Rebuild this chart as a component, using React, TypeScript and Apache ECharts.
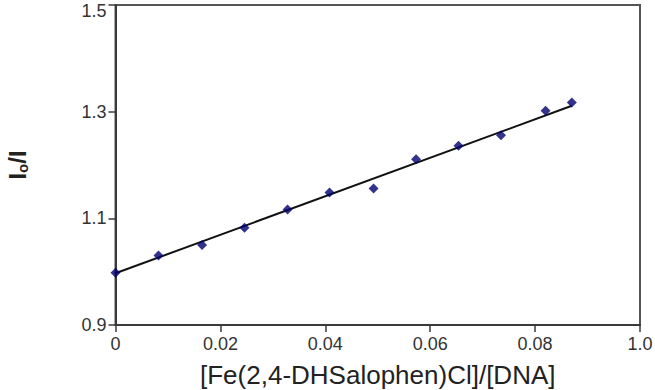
import React, { useEffect, useRef } from "react";
import * as echarts from "echarts";

const xValues = [0, 0.0082, 0.0165, 0.0246, 0.0328, 0.0408, 0.0492, 0.0573, 0.0654, 0.0735, 0.082, 0.087];
const yValues = [0.998, 1.0305, 1.05, 1.0823, 1.1166, 1.1485, 1.156, 1.2109, 1.2359, 1.2559, 1.3015, 1.317];
const fitX = [0, 0.087];
const fitY = [0.997, 1.311];
const xTickLabels = ["0", "0.02", "0.04", "0.06", "0.08", "1.0"];
const yTicks = [0.9, 1.1, 1.3, 1.5];

const FONT = "Liberation Sans, Arial, sans-serif";

export default function App() {
  const ref = useRef<HTMLDivElement>(null);
  useEffect(() => {
    if (!ref.current) return;
    const chart = echarts.init(ref.current, undefined, { renderer: "svg" });
    chart.setOption({
      animation: false,
      backgroundColor: "#ffffff",
      textStyle: { fontFamily: FONT },
      grid: {
        left: 115.5,
        right: 15,
        top: 5,
        bottom: 65,
        containLabel: false,
        outerBoundsMode: "none",
        show: true,
        borderColor: "#555555",
        borderWidth: 2,
      },
      xAxis: {
        type: "value",
        min: 0,
        max: 0.1,
        interval: 0.02,
        name: "[Fe(2,4-DHSalophen)Cl]/[DNA]",
        nameLocation: "middle",
        nameGap: 37,
        nameTextStyle: { fontSize: 26, color: "#222", fontFamily: FONT },
        axisLine: { show: true, lineStyle: { color: "#3a3a3a", width: 2 } },
        axisTick: { show: true, length: 7, lineStyle: { color: "#3a3a3a", width: 1.5 } },
        axisLabel: {
          fontSize: 18,
          color: "#333",
          margin: 10,
          fontFamily: FONT,
          formatter: (v: number) => xTickLabels[Math.round(v / 0.02)] ?? "",
        },
        splitLine: { show: false },
      },
      yAxis: {
        type: "value",
        min: 0.9,
        max: 1.5,
        name: "{a|I}{b|o}{a|/I}",
        nameLocation: "middle",
        nameRotate: 90,
        nameGap: 86,
        nameTextStyle: {
          color: "#222",
          fontFamily: FONT,
          rich: {
            a: { fontSize: 24, fontWeight: "bold", color: "#222", fontFamily: FONT },
            b: { fontSize: 15, fontWeight: "bold", color: "#222", fontFamily: FONT, verticalAlign: "bottom", padding: [8, 0, 0, 0] },
          },
        },
        axisLine: { show: true, lineStyle: { color: "#3a3a3a", width: 2 } },
        axisTick: {
          show: true,
          length: 7,
          customValues: yTicks,
          lineStyle: { color: "#3a3a3a", width: 1.5 },
        },
        axisLabel: {
          fontSize: 18,
          color: "#333",
          margin: 9,
          fontFamily: FONT,
          customValues: yTicks,
          formatter: (v: number) =>
            v >= yTicks[yTicks.length - 1] - 1e-9 ? `{top|${v.toFixed(1)}}` : v.toFixed(1),
          rich: {
            top: { fontSize: 18, color: "#333", fontFamily: FONT, padding: [12, 0, 0, 0] },
          },
        },
        splitLine: { show: false },
      },
      series: [
        {
          type: "line",
          data: fitX.map((x, i) => [x, fitY[i]]),
          showSymbol: false,
          symbol: "none",
          lineStyle: { color: "#111", width: 2 },
          z: 2,
        },
        {
          type: "scatter",
          data: xValues.map((x, i) => [x, yValues[i]]),
          symbol: "diamond",
          symbolSize: 10,
          itemStyle: { color: "#00006e" },
          z: 3,
        },
      ],
    });
    return () => chart.dispose();
  }, []);
  return (
    <div
      ref={ref}
      style={{ position: "fixed", left: 0, top: 0, width: 655, height: 390 }}
    />
  );
}
